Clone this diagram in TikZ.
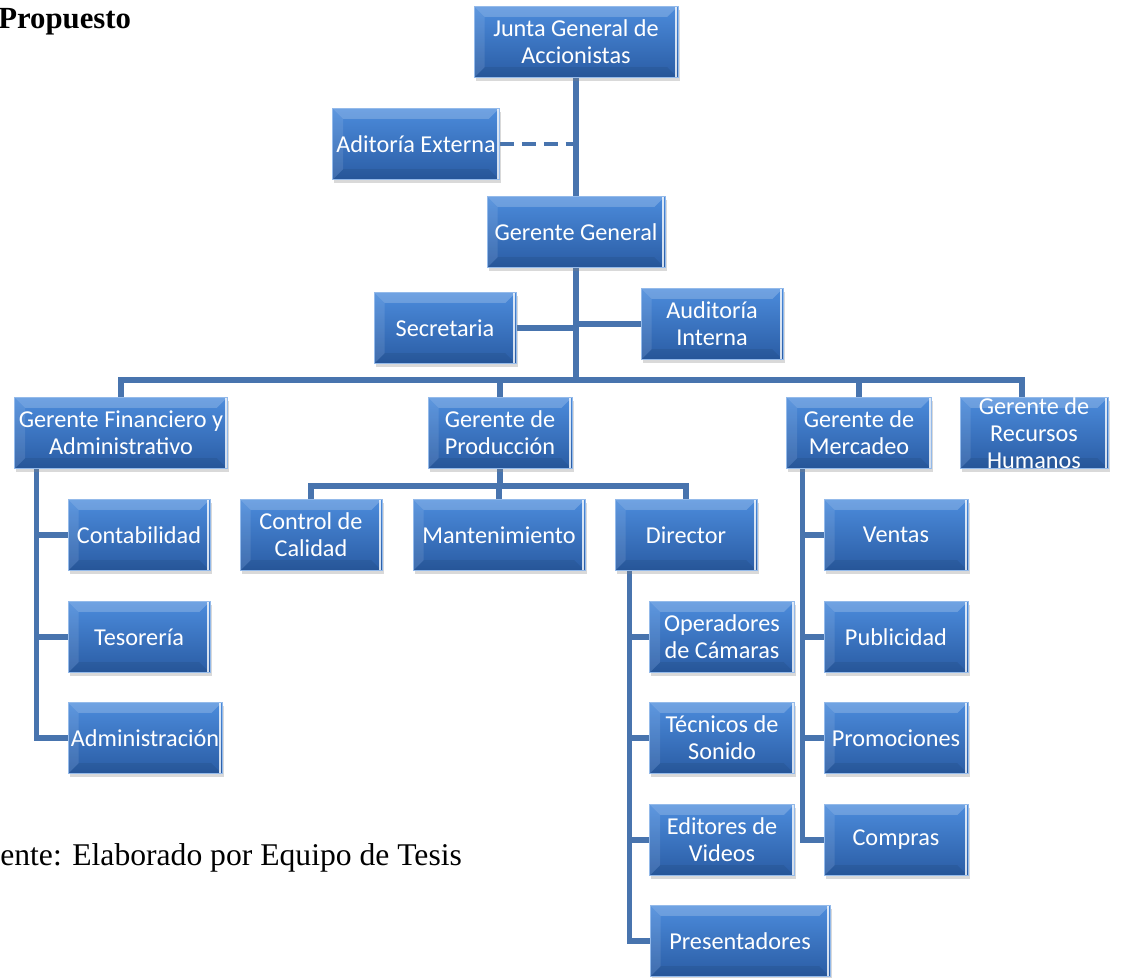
\documentclass[tikz,border=0pt]{standalone}
\usepackage{fontspec}
\setmainfont{Liberation Serif}
\newfontfamily\orgfont{Carlito}
\usepackage{tikz}
\usetikzlibrary{shadows,backgrounds}

\definecolor{boxtop}{RGB}{76,140,220}
\definecolor{boxbot}{RGB}{42,92,164}
\definecolor{linkblue}{RGB}{72,116,174}

\tikzset{
 orgbox/.style={rectangle, minimum width=2.84cm, minimum height=1.43cm, inner sep=1pt,
   top color=boxtop, bottom color=boxbot, draw=boxtop!60!white, line width=0.4pt,
   text=white, align=center, font={\orgfont\fontsize{13.8}{15.5}\selectfont},
   drop shadow={shadow xshift=1pt, shadow yshift=-2pt, opacity=.3},
   path picture={
     \fill[white,opacity=.2] (path picture bounding box.north west) -- (path picture bounding box.north east)
       -- ([shift={(-6pt,-6pt)}]path picture bounding box.north east) -- ([shift={(6pt,-6pt)}]path picture bounding box.north west) -- cycle;
     \fill[white,opacity=.1] (path picture bounding box.north west) -- ([shift={(6pt,-6pt)}]path picture bounding box.north west)
       -- ([shift={(6pt,6pt)}]path picture bounding box.south west) -- (path picture bounding box.south west) -- cycle;
     \fill[black,opacity=.07] (path picture bounding box.south west) -- ([shift={(6pt,6pt)}]path picture bounding box.south west)
       -- ([shift={(-6pt,6pt)}]path picture bounding box.south east) -- (path picture bounding box.south east) -- cycle;
     \draw[white,opacity=.8,line width=1pt] ([xshift=-1pt]path picture bounding box.north east) -- ([xshift=-1pt]path picture bounding box.south east);
   }},
 link/.style={draw=linkblue, line width=3pt},
}

\begin{document}
\begin{tikzpicture}[x=0.02cm, y=-0.02cm]
 \useasboundingbox (0,0) rectangle (1122,977);

 \node[anchor=west, inner sep=0pt, font=\bfseries\fontsize{17.5}{20}\selectfont] (titulo) at (-2,22) {Propuesto};
 \node[anchor=west, inner sep=0pt, font=\fontsize{18}{21}\selectfont] (fuente) at (0,858) {ente: Elaborado por Equipo de Tesis};

 % upper levels
 \node[orgbox, minimum width=4.08cm] (junta) at (576,42) {Junta General de\\Accionistas};
 \node[orgbox, minimum width=3.34cm] (aext) at (416,144) {Aditoría Externa};
 \node[orgbox, minimum width=3.56cm] (gg) at (576,232) {Gerente General};
 \node[orgbox] (secre) at (445,328) {Secretaria};
 \node[orgbox] (aint) at (712,324) {Auditoría\\Interna};

 % gerentes
 \node[orgbox, minimum width=4.26cm] (gfin) at (121,433) {Gerente Financiero y\\Administrativo};
 \node[orgbox, minimum width=2.88cm] (gprod) at (500,433) {Gerente de\\Producción};
 \node[orgbox, minimum width=2.9cm] (gmerc) at (859,433) {Gerente de\\Mercadeo};
 \node[orgbox, minimum width=2.96cm, inner ysep=0pt] (grrhh) at (1034,433) {Gerente de\\Recursos\\Humanos};

 % finanzas
 \node[orgbox] (conta) at (139,535) {Contabilidad};
 \node[orgbox] (teso) at (139,637) {Tesorería};
 \node[orgbox, minimum width=3.08cm] (admin) at (145,738) {Administración};

 % produccion
 \node[orgbox] (calidad) at (311,535) {Control de\\Calidad};
 \node[orgbox, minimum width=3.44cm] (mant) at (499,535) {Mantenimiento};
 \node[orgbox] (director) at (686,535) {Director};
 \node[orgbox, minimum width=2.9cm] (camaras) at (722,637) {Operadores\\de Cámaras};
 \node[orgbox, minimum width=2.9cm] (sonido) at (722,738) {Técnicos de\\Sonido};
 \node[orgbox, minimum width=2.9cm] (videos) at (722,840) {Editores de\\Videos};
 \node[orgbox, minimum width=3.6cm] (presen) at (740,941) {Presentadores};

 % mercadeo
 \node[orgbox, minimum width=2.88cm] (ventas) at (896,535) {Ventas};
 \node[orgbox, minimum width=2.88cm] (publi) at (896,637) {Publicidad};
 \node[orgbox, minimum width=2.88cm] (promo) at (896,738) {Promociones};
 \node[orgbox, minimum width=2.88cm] (compras) at (896,840) {Compras};

 \coordinate (bus) at (576,380);
 \coordinate (pbus) at (500,486);
 \coordinate (rrhhtop) at ([xshift=-0.24cm]grrhh.north);
 \coordinate (finleg) at ([xshift=0.44cm]gfin.south west);
 \coordinate (dirleg) at ([xshift=0.3cm]director.south west);
 \coordinate (mercleg) at ([xshift=0.32cm]gmerc.south west);

 \begin{scope}[on background layer]
 \draw[link] (junta.south) -- (gg.north);
 \draw[link, line width=2.6pt, dash pattern=on 8pt off 4.5pt] (aext.east) -- (aext.east -| junta.south); % externa
 \draw[link] (gg.south) -- (bus);
 \draw[link] (secre.east) -- (secre.east -| gg.south);
 \draw[link] (aint.west) -- (aint.west -| gg.south);

 \draw[link] (gfin.north) |- (bus) -| (rrhhtop);
 \draw[link] (gprod.north) -- (gprod.north |- bus);
 \draw[link] (gmerc.north) -- (gmerc.north |- bus);

 % produccion
 \draw[link] (gprod.south) -- (pbus);
 \draw[link] (calidad.north) |- (pbus) -| (director.north);
 \draw[link] (mant.north) -- (mant.north |- pbus);

 % columnas
 \draw[link] (finleg) |- (admin.west);
 \draw[link] (conta.west -| finleg) -- (conta.west);
 \draw[link] (teso.west -| finleg) -- (teso.west);

 \draw[link] (dirleg) |- (presen.west);
 \draw[link] (camaras.west -| dirleg) -- (camaras.west);
 \draw[link] (sonido.west -| dirleg) -- (sonido.west);
 \draw[link] (videos.west -| dirleg) -- (videos.west);

 \draw[link] (mercleg) |- (compras.west);
 \draw[link] (ventas.west -| mercleg) -- (ventas.west);
 \draw[link] (publi.west -| mercleg) -- (publi.west);
 \draw[link] (promo.west -| mercleg) -- (promo.west);
 \end{scope}

\end{tikzpicture}
\end{document}
